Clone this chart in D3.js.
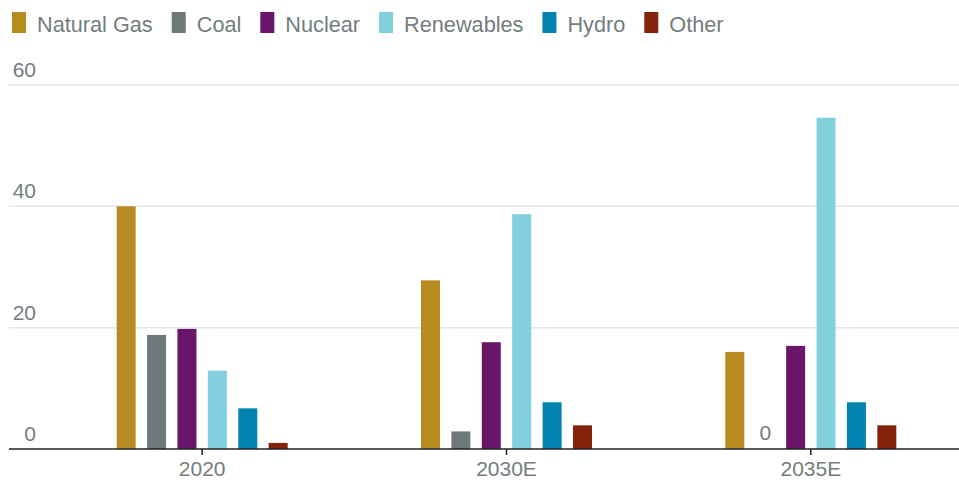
<!DOCTYPE html>
<html>
<head>
<meta charset="utf-8">
<script src="https://cdn.jsdelivr.net/npm/d3@7"></script>
<style>
  html, body { margin: 0; padding: 0; background: #fff; }
  svg { display: block; font-family: "Liberation Sans", Arial, sans-serif; }
</style>
</head>
<body>
<svg id="chart" width="959" height="481"></svg>
<script>
const categories = ["2020", "2030E", "2035E"];
const seriesNames = ["Natural Gas", "Coal", "Nuclear", "Renewables", "Hydro", "Other"];
const seriesColors = ["#b68b20", "#6f7878", "#68156a", "#82cfde", "#0084af", "#83230c"];
const naturalGas = [40, 27.8, 16.0];
const coal = [18.8, 2.9, 0];
const nuclear = [19.8, 17.6, 17.0];
const renewables = [12.9, 38.7, 54.6];
const hydro = [6.7, 7.7, 7.7];
const other = [1.0, 3.9, 3.9];
const yTicks = [0, 20, 40, 60];

const seriesValues = [naturalGas, coal, nuclear, renewables, hydro, other];

const svg = d3.select("#chart");
const textColor = "#737d7d";

const y = d3.scaleLinear().domain([0, 60]).range([449, 85]);
const x = d3.scaleBand().domain(categories).range([50, 963]).paddingInner(0).paddingOuter(0);
const xs = d3.scaleBand().domain(seriesNames).range([-85.5, 85.5]).paddingInner(0.375).paddingOuter(0);

// gridlines
svg.append("g").selectAll("line").data(yTicks.filter(d => d !== 0)).join("line")
  .attr("x1", 9).attr("x2", 959)
  .attr("y1", d => y(d)).attr("y2", d => y(d))
  .attr("stroke", "#e6e6e6").attr("stroke-width", 1.5);

// y labels
svg.append("g").selectAll("text").data(yTicks).join("text")
  .attr("x", 36).attr("y", d => y(d) - 8)
  .attr("text-anchor", "end")
  .attr("font-size", 21).attr("fill", textColor)
  .text(d => d);

// bars
const rows = [];
categories.forEach((c, i) => {
  seriesNames.forEach((s, j) => rows.push({ cat: c, series: s, value: seriesValues[j][i], color: seriesColors[j] }));
});

svg.append("g").selectAll("rect").data(rows).join("rect")
  .attr("x", d => x(d.cat) + x.bandwidth() / 2 + xs(d.series))
  .attr("width", xs.bandwidth())
  .attr("y", d => y(d.value))
  .attr("height", d => y(0) - y(d.value))
  .attr("fill", d => d.color);

// zero labels
svg.append("g").selectAll("text").data(rows.filter(d => d.value === 0)).join("text")
  .attr("x", d => x(d.cat) + x.bandwidth() / 2 + xs(d.series) + xs.bandwidth() / 2)
  .attr("y", y(0) - 9)
  .attr("text-anchor", "middle")
  .attr("font-size", 21).attr("fill", textColor)
  .text(d => d.value);

// x axis
const xAxis = d3.axisBottom(x).tickSize(6).tickSizeOuter(0).tickPadding(6);
const gx = svg.append("g").attr("transform", `translate(0,${y(0)})`).call(xAxis);
gx.select(".domain").remove();
gx.selectAll(".tick line").attr("stroke", "#222").attr("stroke-width", 1.5);
gx.selectAll(".tick text").attr("font-size", 21).attr("fill", textColor)
  .attr("font-family", "'Liberation Sans', Arial, sans-serif");
svg.append("line").attr("x1", 9).attr("x2", 959).attr("y1", y(0)).attr("y2", y(0))
  .attr("stroke", "#222").attr("stroke-width", 1.6);

// legend
const legend = svg.append("g");
let lx = 12;
seriesNames.forEach((s, j) => {
  legend.append("rect").attr("x", lx).attr("y", 12).attr("width", 14).attr("height", 21).attr("fill", seriesColors[j]);
  const t = legend.append("text").attr("x", lx + 25).attr("y", 31.5)
    .attr("font-size", 21.7).attr("fill", textColor).text(s);
  lx += 25 + t.node().getComputedTextLength() + 19;
});
</script>
</body>
</html>
